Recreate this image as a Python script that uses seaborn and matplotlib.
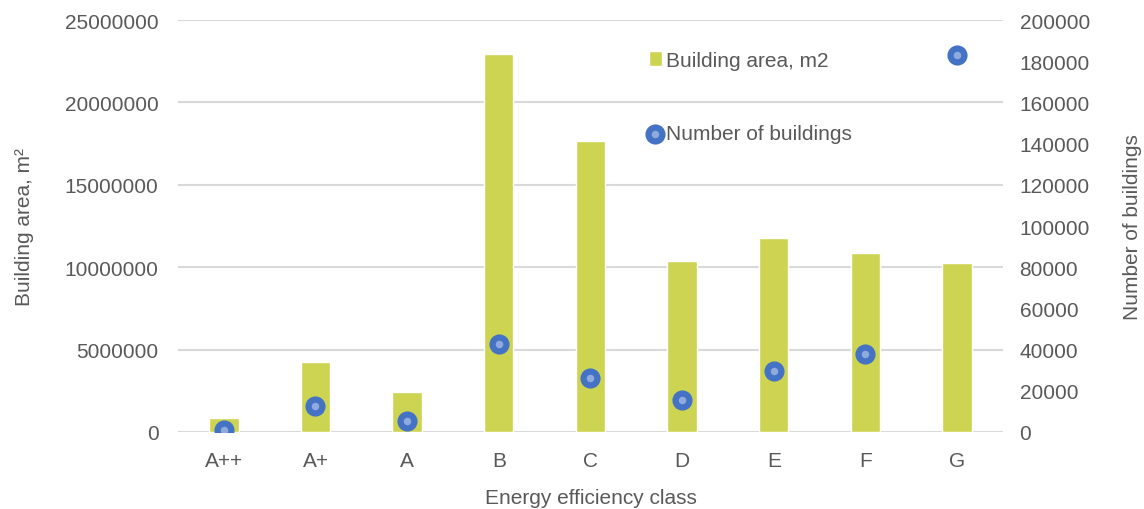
import pandas as pd
import matplotlib
matplotlib.use('Agg')
import matplotlib.pyplot as plt
from matplotlib.ticker import FuncFormatter
import seaborn as sns

# values
classes = ['A++', 'A+', 'A', 'B', 'C', 'D', 'E', 'F', 'G']
area_m2 = [830000, 4240000, 2430000, 22920000, 17640000, 10360000, 11760000, 10850000, 10260000]
n_buildings = [800, 12500, 5200, 42600, 26400, 15400, 29600, 37900, 183000]

df = pd.DataFrame({'Class': classes, 'Area': area_m2, 'Count': n_buildings})

sns.set_theme(style='white')
plt.rcParams['font.family'] = ['Liberation Sans', 'DejaVu Sans']
txt = '#595959'
grid = '#D9D9D9'
bar_col = '#CDD452'
pt_edge = '#4472C4'
pt_face = '#8FAADC'
fs = 15
plain = FuncFormatter(lambda v, p: f'{int(v)}')

fig = plt.figure(figsize=(11.44, 5.10), dpi=100)
ax = fig.add_axes([0.1556, 0.151, 0.7211, 0.8078])

sns.barplot(data=df, x='Class', y='Area', color=bar_col, width=0.32,
            saturation=1, ax=ax, label='Building area, m2', zorder=2)
ax.set_ylim(0, 25000000)
ax.set_yticks(range(0, 25000001, 5000000))
ax.yaxis.set_major_formatter(plain)
ax.set_xlim(-0.5, 8.5)
ax.yaxis.grid(True, color=grid, linewidth=1.5, zorder=0)
ax.set_axisbelow(True)
for s in ax.spines.values():
    s.set_visible(False)
ax.tick_params(axis='x', length=0, labelsize=fs, colors=txt, pad=14)
ax.tick_params(axis='y', length=0, labelsize=fs, colors=txt, pad=14)
ax.set_xlabel('Energy efficiency class', fontsize=fs, color=txt, labelpad=13)
ax.set_ylabel('Building area, m\u00b2', fontsize=fs, color=txt, labelpad=22)
if ax.get_legend():
    ax.get_legend().remove()

ax2 = ax.twinx()
sns.scatterplot(x=list(range(len(classes))), y=df['Count'], ax=ax2, s=100,
                marker='o', color=pt_face, edgecolor=pt_edge, linewidth=4.5,
                label='Number of buildings', zorder=3)
ax2.set_ylim(0, 200000)
ax2.set_yticks(range(0, 200001, 20000))
ax2.yaxis.set_major_formatter(plain)
ax2.grid(False)
for s in ax2.spines.values():
    s.set_visible(False)
ax2.tick_params(axis='y', length=0, labelsize=fs, colors=txt, pad=12)
ax2.set_ylabel('Number of buildings', fontsize=fs, color=txt, labelpad=24)
ax2.set_xlim(-0.5, 8.5)

h1, l1 = ax.get_legend_handles_labels()
h2, l2 = ax2.get_legend_handles_labels()
if ax2.get_legend():
    ax2.get_legend().remove()
leg = ax2.legend(h1 + h2, l1 + l2, loc='upper left', bbox_to_anchor=(0.561, 0.945),
                 frameon=False, fontsize=fs, labelspacing=2.6, handlelength=0.6,
                 handletextpad=0.2, borderaxespad=0)
for t in leg.get_texts():
    t.set_color(txt)

fig.savefig('out.png', dpi=100)
